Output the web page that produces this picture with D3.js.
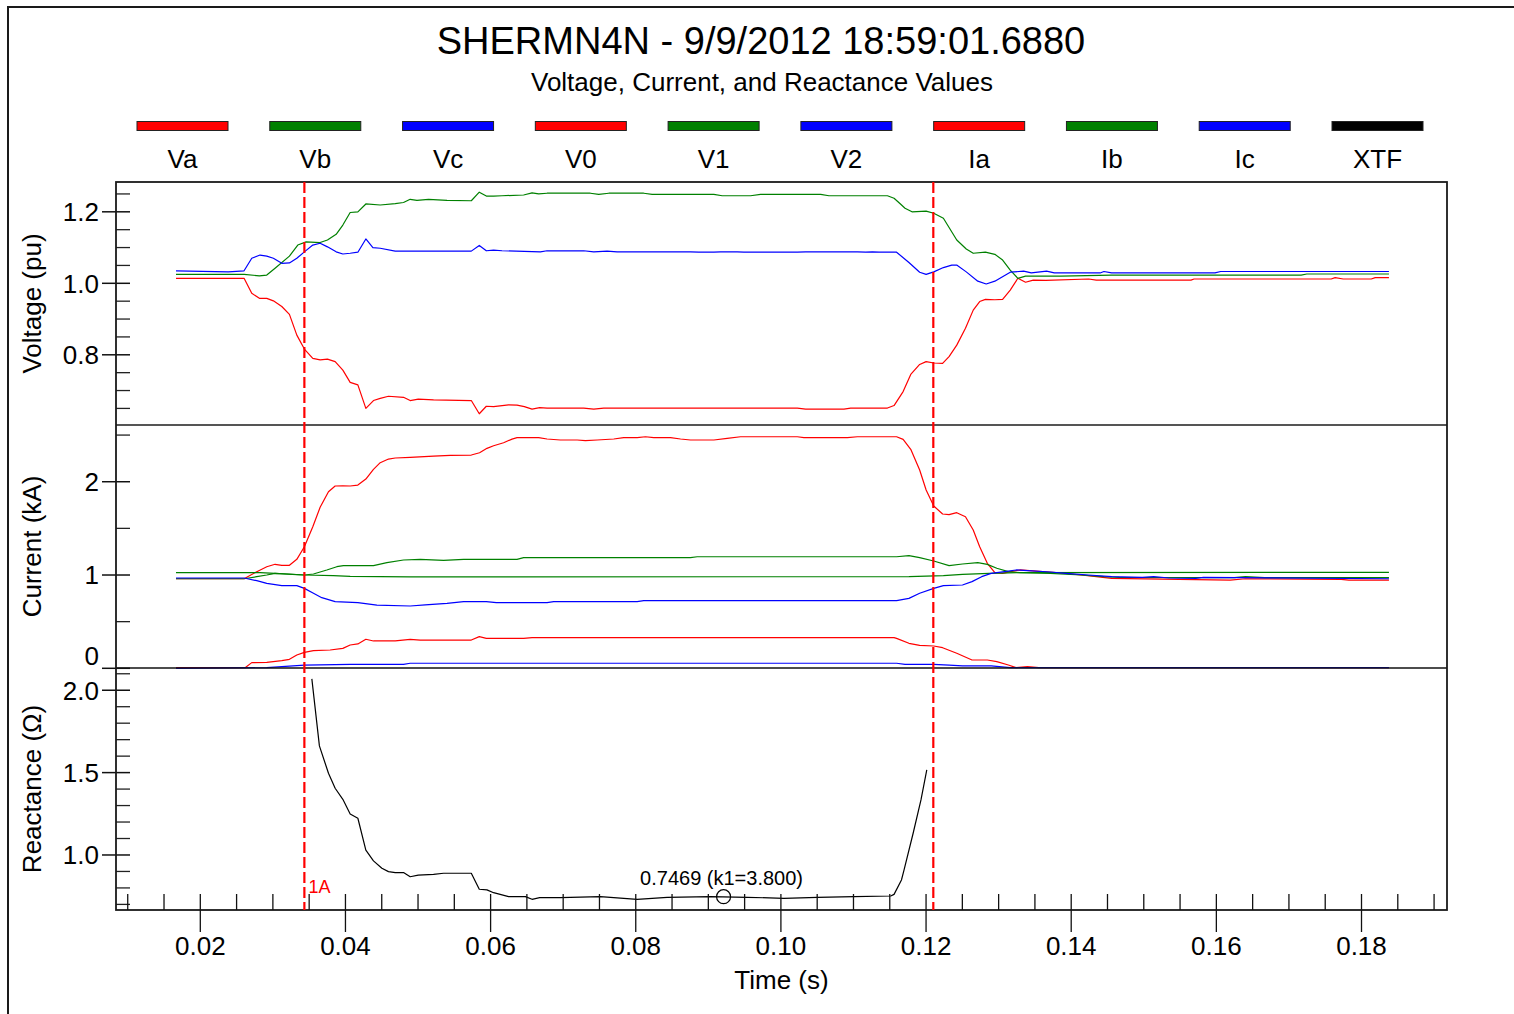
<!DOCTYPE html>
<html><head><meta charset="utf-8">
<script src="https://cdn.jsdelivr.net/npm/d3@7"></script>
<style>body{margin:0;background:#fff} text{font-family:"Liberation Sans",Arial,sans-serif;fill:#000}</style>
</head><body><svg id="c" width="1514" height="1014"></svg>
<script>
// ---------- DATA ----------
const titleText = "SHERMN4N - 9/9/2012 18:59:01.6880";
const subtitleText = "Voltage, Current, and Reactance Values";
const legendLabels = ["Va","Vb","Vc","V0","V1","V2","Ia","Ib","Ic","XTF"];
const legendColors = ["#ff0000","#008000","#0000ff","#ff0000","#008000","#0000ff","#ff0000","#008000","#0000ff","#000000"];

const timeMajorTicks = [0.02,0.04,0.06,0.08,0.10,0.12,0.14,0.16,0.18];
const voltageMajorTicks = [0.8,1.0,1.2];
const currentMajorTicks = [0,1,2];
const reactanceMajorTicks = [1.0,1.5,2.0];

const cursorTimes = [0.03434, 0.12100];
const cursorLabel = "1A";
const annotation = {t:0.0921, v:0.7469, text:"0.7469 (k1=3.800)"};

// Voltage (pu)
const Va = [[0.01665,1.014],[0.02603,1.014],[0.02709,0.972],[0.02814,0.958],[0.02916,0.958],[0.03007,0.951],[0.03123,0.935],[0.03228,0.913],[0.03330,0.855],[0.03434,0.816],[0.03550,0.790],[0.03651,0.786],[0.03752,0.788],[0.03858,0.781],[0.03964,0.757],[0.04065,0.723],[0.04171,0.716],[0.04281,0.650],[0.04386,0.672],[0.04479,0.678],[0.04593,0.684],[0.04800,0.681],[0.04892,0.672],[0.05003,0.676],[0.05214,0.674],[0.05734,0.672],[0.05844,0.635],[0.05941,0.656],[0.06041,0.655],[0.06248,0.660],[0.06364,0.659],[0.06465,0.655],[0.06571,0.648],[0.06676,0.652],[0.06778,0.651],[0.07283,0.651],[0.07421,0.648],[0.07559,0.651],[0.10226,0.651],[0.10341,0.648],[0.10869,0.648],[0.10961,0.651],[0.11468,0.651],[0.11559,0.658],[0.11684,0.697],[0.11789,0.745],[0.11912,0.773],[0.12001,0.781],[0.12106,0.777],[0.12228,0.776],[0.12317,0.795],[0.12423,0.827],[0.12543,0.874],[0.12650,0.925],[0.12739,0.949],[0.12818,0.955],[0.12948,0.954],[0.13055,0.955],[0.13160,0.981],[0.13265,1.014],[0.13371,1.003],[0.13477,1.009],[0.13651,1.008],[0.14240,1.012],[0.14346,1.009],[0.15651,1.009],[0.15692,1.012],[0.17582,1.012],[0.17637,1.016],[0.17748,1.012],[0.18134,1.012],[0.18189,1.016],[0.18378,1.016]];
const Vb = [[0.01665,1.025],[0.02603,1.025],[0.02814,1.021],[0.02916,1.023],[0.03030,1.042],[0.03228,1.076],[0.03343,1.107],[0.03458,1.116],[0.03651,1.114],[0.03752,1.121],[0.03872,1.137],[0.03964,1.163],[0.04065,1.198],[0.04171,1.200],[0.04281,1.222],[0.04479,1.219],[0.04686,1.223],[0.04800,1.226],[0.04892,1.235],[0.04985,1.232],[0.05145,1.235],[0.05399,1.232],[0.05734,1.231],[0.05844,1.255],[0.05941,1.244],[0.06041,1.244],[0.06157,1.245],[0.06455,1.247],[0.06571,1.253],[0.06662,1.250],[0.06778,1.252],[0.07375,1.252],[0.07490,1.249],[0.07628,1.252],[0.08110,1.252],[0.08226,1.249],[0.09076,1.249],[0.09191,1.245],[0.09582,1.245],[0.09720,1.249],[0.10548,1.249],[0.10662,1.245],[0.11468,1.245],[0.11559,1.238],[0.11651,1.221],[0.11710,1.210],[0.11806,1.200],[0.12001,1.202],[0.12106,1.196],[0.12239,1.182],[0.12423,1.121],[0.12554,1.096],[0.12650,1.084],[0.12818,1.087],[0.12948,1.081],[0.13055,1.065],[0.13160,1.037],[0.13265,1.014],[0.13371,1.020],[0.13858,1.020],[0.14557,1.023],[0.17168,1.023],[0.17246,1.026],[0.18378,1.026]];
const Vc = [[0.01665,1.035],[0.02386,1.032],[0.02603,1.035],[0.02709,1.070],[0.02823,1.079],[0.02916,1.076],[0.03007,1.070],[0.03123,1.056],[0.03228,1.057],[0.03330,1.070],[0.03434,1.088],[0.03550,1.107],[0.03651,1.112],[0.03752,1.102],[0.03872,1.088],[0.03964,1.082],[0.04065,1.084],[0.04171,1.087],[0.04281,1.124],[0.04378,1.100],[0.04479,1.098],[0.04686,1.090],[0.05734,1.090],[0.05844,1.106],[0.05941,1.091],[0.06041,1.093],[0.06157,1.091],[0.06686,1.088],[0.06778,1.091],[0.07283,1.091],[0.07421,1.088],[0.07606,1.090],[0.07743,1.088],[0.08754,1.088],[0.08869,1.087],[0.09076,1.087],[0.09168,1.088],[0.09399,1.088],[0.09490,1.087],[0.10226,1.087],[0.10341,1.088],[0.11054,1.088],[0.11168,1.087],[0.11261,1.088],[0.11352,1.087],[0.11594,1.087],[0.11764,1.058],[0.11912,1.031],[0.12001,1.025],[0.12106,1.032],[0.12239,1.044],[0.12354,1.051],[0.12422,1.051],[0.12554,1.032],[0.12713,1.006],[0.12829,0.998],[0.12948,1.006],[0.13160,1.031],[0.13345,1.034],[0.13450,1.029],[0.13661,1.034],[0.13767,1.029],[0.14399,1.029],[0.14451,1.033],[0.14557,1.029],[0.15981,1.029],[0.16059,1.033],[0.18378,1.033]];

// Current (kA)
const Ia = [[0.01665,0.960],[0.02603,0.960],[0.02778,1.035],[0.02916,1.089],[0.03030,1.115],[0.03123,1.104],[0.03228,1.104],[0.03330,1.168],[0.03434,1.303],[0.03550,1.518],[0.03651,1.726],[0.03766,1.893],[0.03858,1.954],[0.03964,1.957],[0.04065,1.954],[0.04171,1.964],[0.04281,2.029],[0.04386,2.133],[0.04479,2.204],[0.04593,2.243],[0.04686,2.254],[0.04892,2.261],[0.05214,2.275],[0.05444,2.282],[0.05734,2.286],[0.05848,2.311],[0.05950,2.358],[0.06041,2.386],[0.06179,2.418],[0.06295,2.457],[0.06364,2.472],[0.06662,2.472],[0.06778,2.458],[0.06961,2.447],[0.07192,2.447],[0.07306,2.440],[0.07468,2.447],[0.07697,2.458],[0.07834,2.472],[0.08019,2.472],[0.08134,2.482],[0.08248,2.472],[0.08479,2.472],[0.08617,2.458],[0.08754,2.447],[0.09076,2.447],[0.09260,2.465],[0.09444,2.482],[0.10226,2.482],[0.10317,2.472],[0.10916,2.472],[0.11054,2.482],[0.11594,2.482],[0.11684,2.454],[0.11789,2.347],[0.11912,2.125],[0.12001,1.911],[0.12106,1.740],[0.12228,1.654],[0.12317,1.647],[0.12423,1.668],[0.12543,1.625],[0.12650,1.482],[0.12739,1.303],[0.12844,1.125],[0.12948,1.025],[0.13055,1.018],[0.13160,1.036],[0.13292,1.054],[0.13608,1.036],[0.13924,1.018],[0.14135,1.000],[0.14346,0.982],[0.14557,0.964],[0.16190,0.946],[0.16401,0.960],[0.17720,0.953],[0.17825,0.946],[0.18378,0.946]];
const Ib = [[0.01665,1.025],[0.02823,1.025],[0.03030,1.018],[0.03330,1.004],[0.03434,1.000],[0.03559,1.011],[0.03743,1.054],[0.03881,1.089],[0.03972,1.100],[0.04386,1.100],[0.04571,1.132],[0.04800,1.161],[0.05030,1.168],[0.05352,1.157],[0.05628,1.168],[0.06364,1.168],[0.06455,1.186],[0.08754,1.186],[0.08847,1.196],[0.11594,1.196],[0.11764,1.207],[0.11912,1.186],[0.12106,1.150],[0.12317,1.100],[0.12502,1.118],[0.12713,1.132],[0.12844,1.114],[0.12975,1.072],[0.13134,1.036],[0.13292,1.025],[0.13714,1.018],[0.14135,1.000],[0.14451,0.982],[0.14662,0.975],[0.16244,0.971],[0.16401,0.982],[0.16665,0.971],[0.18378,0.971]];
const Ic = [[0.01665,0.968],[0.02603,0.968],[0.02778,0.939],[0.02916,0.911],[0.03123,0.886],[0.03330,0.886],[0.03434,0.857],[0.03559,0.804],[0.03674,0.757],[0.03858,0.714],[0.04171,0.704],[0.04433,0.678],[0.04892,0.668],[0.05099,0.679],[0.05399,0.696],[0.05628,0.714],[0.05941,0.714],[0.06079,0.704],[0.06778,0.704],[0.06869,0.714],[0.08019,0.714],[0.08110,0.725],[0.11594,0.725],[0.11764,0.750],[0.11912,0.804],[0.12106,0.857],[0.12239,0.886],[0.12502,0.893],[0.12633,0.929],[0.12766,0.982],[0.12897,1.018],[0.13081,1.036],[0.13240,1.054],[0.13397,1.046],[0.13714,1.032],[0.13924,1.018],[0.14240,1.000],[0.14557,0.982],[0.14979,0.975],[0.15137,0.982],[0.15348,0.968],[0.15717,0.964],[0.15822,0.975],[0.18378,0.960]];
const I0 = [[0.01665,0.007],[0.02617,0.007],[0.02709,0.061],[0.02916,0.064],[0.03123,0.082],[0.03228,0.096],[0.03330,0.143],[0.03434,0.171],[0.03559,0.189],[0.03789,0.196],[0.03964,0.214],[0.04065,0.250],[0.04171,0.261],[0.04281,0.311],[0.04386,0.293],[0.04686,0.293],[0.04892,0.311],[0.05030,0.303],[0.05734,0.303],[0.05844,0.339],[0.05941,0.321],[0.06455,0.321],[0.06571,0.328],[0.11559,0.328],[0.11594,0.321],[0.11764,0.268],[0.11912,0.246],[0.12106,0.239],[0.12228,0.221],[0.12423,0.161],[0.12633,0.089],[0.12844,0.089],[0.12975,0.071],[0.13134,0.035],[0.13240,0.007],[0.13397,0.018],[0.13554,0.007],[0.18378,0.007]];
const I1 = [[0.01665,0.960],[0.02603,0.960],[0.02778,0.982],[0.02916,1.000],[0.03030,1.018],[0.03192,1.011],[0.03434,1.000],[0.03834,0.993],[0.04065,0.986],[0.04892,0.979],[0.11764,0.982],[0.12239,0.993],[0.12502,1.007],[0.12870,1.018],[0.13292,1.025],[0.18378,1.029]];
const I2 = [[0.01665,0.000],[0.02916,0.007],[0.03123,0.018],[0.03434,0.035],[0.04065,0.043],[0.04800,0.043],[0.04892,0.054],[0.11594,0.054],[0.11710,0.043],[0.12106,0.043],[0.12317,0.035],[0.12502,0.025],[0.12897,0.025],[0.13160,0.007],[0.18378,0.007]];

// Reactance (ohm)
const XTF = [[0.03537,2.069],[0.03641,1.662],[0.03766,1.496],[0.03858,1.405],[0.03964,1.338],[0.04065,1.249],[0.04171,1.223],[0.04281,1.030],[0.04386,0.964],[0.04502,0.919],[0.04593,0.899],[0.04686,0.893],[0.04800,0.893],[0.04892,0.868],[0.05003,0.878],[0.05214,0.882],[0.05352,0.889],[0.05734,0.889],[0.05844,0.792],[0.05950,0.788],[0.06041,0.771],[0.06248,0.747],[0.06479,0.747],[0.06571,0.731],[0.06676,0.741],[0.06961,0.741],[0.07513,0.747],[0.08019,0.731],[0.08433,0.743],[0.09030,0.747],[0.09537,0.743],[0.10041,0.737],[0.10502,0.743],[0.11007,0.747],[0.11513,0.751],[0.11559,0.761],[0.11661,0.848],[0.11697,0.909],[0.11822,1.132],[0.11930,1.334],[0.12010,1.516]];

// ---------- LAYOUT ----------
const RED="#ff0000", GREEN="#008000", BLUE="#0000ff", BLACK="#000000";
const P = {left:116, right:1447, top:182, bottom:910};
const bands = [[182,425],[425,668],[668,910]];
const x = d3.scaleLinear().domain([0.008384,0.19178]).range([P.left,P.right]);
const yV = d3.scaleLinear().domain([0.6036,1.2834]).range([bands[0][1],bands[0][0]]);
const yI = d3.scaleLinear().domain([0,2.608]).range([668.3,425]);
const yX = d3.scaleLinear().domain([0.666,2.135]).range([bands[2][1],bands[2][0]]);

const svg = d3.select("#c");
svg.append("rect").attr("width",1514).attr("height",1014).attr("fill","#fff");
svg.append("rect").attr("x",8).attr("y",7).attr("width",1530).attr("height",1030)
  .attr("fill","none").attr("stroke","#1a1a1a").attr("stroke-width",2);

svg.append("text").attr("x",761).attr("y",54).attr("text-anchor","middle").attr("font-size",38).text(titleText);
svg.append("text").attr("x",762).attr("y",91).attr("text-anchor","middle").attr("font-size",26).text(subtitleText);

// legend
const lx = d3.scalePoint().domain(legendLabels).range([182.5,1377.5]);
const lg = svg.append("g");
legendLabels.forEach((l,i)=>{
  lg.append("rect").attr("x",lx(l)-45.5).attr("y",121.5).attr("width",91).attr("height",9)
    .attr("fill",legendColors[i]).attr("stroke","#222").attr("stroke-width",1);
  lg.append("text").attr("x",lx(l)).attr("y",168).attr("text-anchor","middle").attr("font-size",26).text(l);
});

const panels = [
  {y:yV, band:bands[0], series:[[Va,RED],[Vb,GREEN],[Vc,BLUE]], major:voltageMajorTicks,
   minor:d3.range(13).map(i=>0.65+i*0.05), title:"Voltage (pu)", fmt:d3.format(".1f")},
  {y:yI, band:bands[1], series:[[Ia,RED],[I0,RED],[Ib,GREEN],[I1,GREEN],[Ic,BLUE],[I2,BLUE]], major:currentMajorTicks,
   minor:[0.5,1.5,2.5], title:"Current (kA)", fmt:d3.format("d")},
  {y:yX, band:bands[2], series:[[XTF,BLACK]], major:reactanceMajorTicks,
   minor:d3.range(15).map(i=>0.7+i*0.1), title:"Reactance (\u03A9)", fmt:d3.format(".1f")}
];

const g = svg.append("g");
panels.forEach(p=>{
  const line = d3.line().x(d=>x(d[0])).y(d=>p.y(d[1]));
  p.series.forEach(([data,col])=>{
    g.append("path").attr("d",line(data)).attr("fill","none").attr("stroke",col)
     .attr("stroke-width",1.2).attr("stroke-linejoin","round");
  });
  p.minor.filter(v=>!p.major.some(m=>Math.abs(m-v)<1e-6)).forEach(v=>{
    const yy = p.y(v);
    if (yy < p.band[0]-0.5 || yy > p.band[1]+0.5) return;
    g.append("line").attr("x1",P.left).attr("x2",P.left+14).attr("y1",yy).attr("y2",yy)
     .attr("stroke","#222").attr("stroke-width",1.3);
  });
  p.major.forEach(v=>{
    const yy = p.y(v);
    g.append("line").attr("x1",P.left-14).attr("x2",P.left+14).attr("y1",yy).attr("y2",yy)
     .attr("stroke","#111").attr("stroke-width",1.5);
    g.append("text").attr("x",99).attr("y",Math.min(yy,p.band[1]-12)).attr("dy","0.36em")
     .attr("text-anchor","end").attr("font-size",26).text(p.fmt(v));
  });
  const cy = (p.band[0]+p.band[1])/2;
  g.append("text").attr("transform",`translate(41,${cy}) rotate(-90)`).attr("text-anchor","middle")
   .attr("font-size",26).text(p.title);
});

// separators
svg.append("line").attr("x1",P.left).attr("x2",P.right).attr("y1",425).attr("y2",425).attr("stroke","#555").attr("stroke-width",1.8);
svg.append("line").attr("x1",P.left).attr("x2",P.right).attr("y1",668).attr("y2",668).attr("stroke","#111").attr("stroke-width",1.5);
// frame
svg.append("rect").attr("x",P.left).attr("y",P.top).attr("width",P.right-P.left).attr("height",P.bottom-P.top)
  .attr("fill","none").attr("stroke","#1a1a1a").attr("stroke-width",1.8);

// x ticks
d3.range(37).map(i=>0.01+i*0.005).filter(v=>!timeMajorTicks.some(m=>Math.abs(m-v)<1e-6)).forEach(v=>{
  svg.append("line").attr("x1",x(v)).attr("x2",x(v)).attr("y1",P.bottom-16).attr("y2",P.bottom).attr("stroke","#111").attr("stroke-width",1.3);
});
timeMajorTicks.forEach(v=>{
  svg.append("line").attr("x1",x(v)).attr("x2",x(v)).attr("y1",P.bottom-16).attr("y2",P.bottom+22).attr("stroke","#111").attr("stroke-width",1.3);
  svg.append("text").attr("x",x(v)).attr("y",955).attr("text-anchor","middle").attr("font-size",26).text(d3.format(".2f")(v));
});
svg.append("text").attr("x",(P.left+P.right)/2).attr("y",989).attr("text-anchor","middle").attr("font-size",26).text("Time (s)");

// cursors
cursorTimes.forEach(t=>{
  svg.append("line").attr("x1",x(t)).attr("x2",x(t)).attr("y1",P.top).attr("y2",P.bottom)
    .attr("stroke",RED).attr("stroke-width",2.2).attr("stroke-dasharray","11,4");
});
svg.append("text").attr("x",x(cursorTimes[0])+4).attr("y",893).attr("font-size",18).style("fill",RED).text(cursorLabel);

// annotation
svg.append("circle").attr("cx",x(annotation.t)).attr("cy",yX(annotation.v)).attr("r",7)
  .attr("fill","none").attr("stroke","#000").attr("stroke-width",1.2);
svg.append("text").attr("x",x(annotation.t)-2).attr("y",yX(annotation.v)-12).attr("text-anchor","middle")
  .attr("font-size",20).text(annotation.text);
</script></body></html>
